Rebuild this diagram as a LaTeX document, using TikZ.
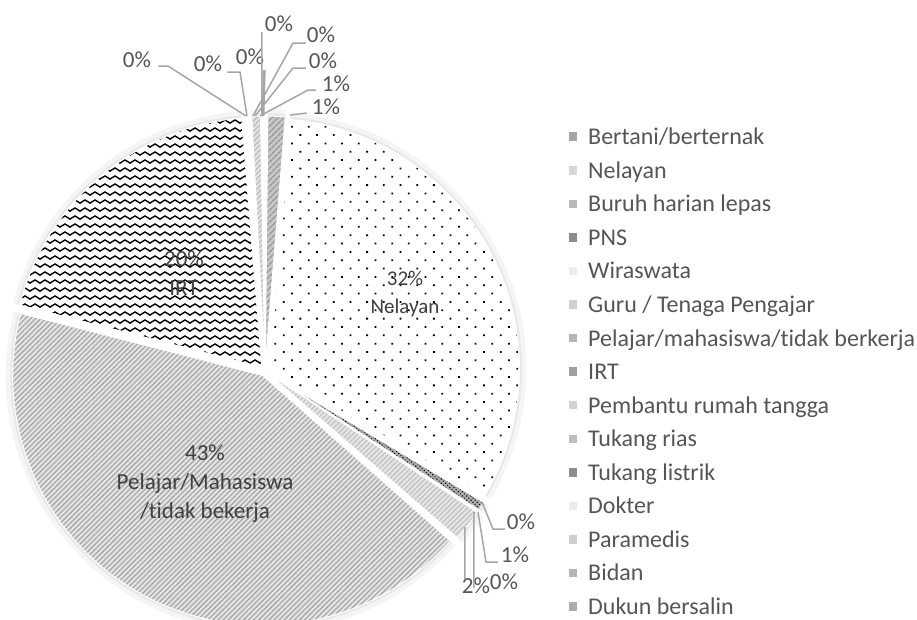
\documentclass[tikz,border=0pt]{standalone}
\usepackage{fontspec}
\setmainfont{Carlito}[Ligatures={NoCommon}]
\usetikzlibrary{patterns,patterns.meta,calc}
\definecolor{txt}{HTML}{555555}
\definecolor{lbl}{HTML}{404040}
\definecolor{leadc}{HTML}{A6A6A6}

\tikzdeclarepattern{
  name=zigzagP,
  type=uncolored,
  bounding box={(-1.5pt,-1.5pt) and (11.5pt,5pt)},
  tile size={(10pt,8pt)},
  code={\draw[line width=1.4pt] (-0.5pt,-0.3pt) -- (5pt,3pt) -- (10.5pt,-0.3pt);}
}

\newcommand\pieslice[3]{%
  \pgfmathsetmacro\psM{90-(#1+#2)/2}%
  \pgfmathsetmacro\psA{90-#1}%
  \pgfmathsetmacro\psB{90-#2}%
  \path[#3] ($(C)+(\psM:5)$) -- ++(\psA:250) arc[start angle=\psA, end angle=\psB, radius=250] -- cycle;
}
\newcommand\pieshadow[2]{%
  \pgfmathsetmacro\psM{90-(#1+#2)/2}%
  \pgfmathsetmacro\psA{90-#1}%
  \pgfmathsetmacro\psB{90-#2}%
  \draw[gray!8, line width=8] ($(C)+(\psM:5)+(\psA:253)$) arc[start angle=\psA, end angle=\psB, radius=253];
  \draw[gray!18, line width=3] ($(C)+(\psM:5)+(\psA:251)$) arc[start angle=\psA, end angle=\psB, radius=251];
}
\newcommand\legitem[3]{%
  \pgfmathsetmacro\legy{-(136.7+33.56*#1)}%
  \node[sw, fill=#2] (sw#1) at (573,\legy) {};
  \node[leg, anchor=base west] (lg#1) at (588,\legy-8) {#3};
}

\begin{document}
\begin{tikzpicture}[x=1pt,y=1pt,
  slicebase/.style={draw=white, line width=1pt},
  bertani/.style={slicebase, preaction={fill=gray!45}, pattern={Lines[angle=45,distance=4pt,line width=1.3pt]}, pattern color=gray!85},
  nelayan/.style={slicebase, preaction={fill=white}, pattern={Dots[angle=45,distance=11.8pt,radius=1.25pt]}, pattern color=black},
  pns/.style={slicebase, preaction={fill=gray!65}, pattern={Dots[angle=45,distance=3pt,radius=0.8pt]}, pattern color=black},
  guru/.style={slicebase, preaction={fill=gray!20}, pattern={Lines[angle=45,distance=3.6pt,line width=1.1pt]}, pattern color=gray!50},
  pelajar/.style={slicebase, preaction={fill=gray!20}, pattern={Lines[angle=45,distance=3.6pt,line width=1.3pt]}, pattern color=gray!68},
  irt/.style={slicebase, preaction={fill=white}, pattern=zigzagP, pattern color=black},
  paramedis/.style={slicebase, preaction={fill=gray!22}, pattern={Lines[angle=45,distance=3.6pt,line width=1.1pt]}, pattern color=gray!55},
  lab/.style={font=\fontsize{23}{28}\selectfont, text=txt, inner sep=0pt},
  inlab/.style={font=\fontsize{23}{29}\selectfont, text=lbl, inner sep=0pt, align=center},
  leader/.style={draw=leadc, line width=1.5pt},
  sw/.style={minimum size=8.5pt, inner sep=0pt, draw=none},
  leg/.style={font=\fontsize{24}{28}\selectfont, text=txt, inner sep=0pt},
]
\useasboundingbox (0,0) rectangle (917,-619);
\coordinate (C) at (265,-371);

% shadows
\pieshadow{0.6}{4.6}
\pieshadow{5.0}{120.4}
\pieshadow{121.0}{123.0}
\pieshadow{123.6}{131.0}
\pieshadow{131.4}{284.4}
\pieshadow{284.4}{355.4}
\pieshadow{357.0}{359.0}

% slices
\pieslice{0.6}{4.6}{bertani}
\pieslice{5.0}{120.4}{nelayan}
\pieslice{121.0}{123.0}{pns}
\pieslice{123.6}{131.0}{guru}
\pieslice{131.4}{284.4}{pelajar}
\pieslice{284.4}{355.4}{irt}
\pieslice{357.0}{359.0}{paramedis}

% in-slice labels
\node[inlab, font=\fontsize{21}{28}\selectfont] (lnel) at (405,-294) {32\%\\Nelayan};
\node[inlab] (lpel) at (205,-484) {43\%\\Pelajar/Mahasiswa\\/t\kern0pt idak bekerja};
\node[inlab] (lirt) at (184,-273) {20\%\\IRT};

% top outside labels
\node[lab] (t1) at (137,-60) {0\%};
\node[lab] (t2) at (208,-64) {0\%};
\node[lab] (t3) at (250,-57) {0\%};
\node[lab] (t4) at (279,-24) {0\%};
\node[lab] (t5) at (321,-35) {0\%};
\node[lab] (t6) at (323,-61) {0\%};
\node[lab] (t7) at (336,-84) {1\%};
\node[lab] (t8) at (326,-107) {1\%};

\coordinate (t1e) at (168,-66);  \coordinate (t1p) at (246,-116);
\coordinate (t2e) at (240,-72);  \coordinate (t2p) at (247,-116);
\coordinate (t3p) at (263,-116);
\coordinate (t4p) at (262,-116);
\coordinate (t5e) at (293,-43);  \coordinate (t5p) at (253,-116);
\coordinate (t6e) at (293,-68);  \coordinate (t6p) at (255,-116);
\coordinate (t7e) at (308,-90);  \coordinate (t7p) at (260,-116);
\coordinate (t8p) at (290,-115);

\draw[leader] (t1.east) ++(7,-6) -- (t1e) -- (t1p);
\draw[leader] (t2.east) ++(5,-8) -- (t2e) -- (t2p);
\draw[leader, line width=2.8pt] (t3.south east) ++(0,-5) -- (t3p);
\draw[leader] (t4.west) ++(-3,-8) -- (t4p);
\draw[leader] (t5.west) ++(-1,-8) -- (t5e) -- (t5p);
\draw[leader] (t6.west) ++(-3,-7) -- (t6e) -- (t6p);
\draw[leader] (t7.west) ++(-6,-6) -- (t7e) -- (t7p);
\draw[leader] (t8.west) ++(-5,-6) -- (t8p);

% bottom outside labels
\node[lab] (b1) at (521,-522) {0\%};
\node[lab] (b2) at (515,-555) {1\%};
\node[lab] (b3) at (476,-586) {2\%};
\node[lab] (b4) at (504,-582) {0\%};

\coordinate (b1e) at (493,-529); \coordinate (b1p) at (482,-502);
\coordinate (b2e) at (486,-562); \coordinate (b2p) at (478,-512);
\coordinate (b3p) at (465,-527);
\coordinate (b4p) at (474,-512);

\draw[leader] (b1.west) ++(-2,-7) -- (b1e) -- (b1p);
\draw[leader] (b2.west) ++(-3,-7) -- (b2e) -- (b2p);
\draw[leader] (b3.north west) ++(3,-1) -- (b3p);
\draw[leader] (b4.west) ++(-16,-6) -- (b4p);

% legend
\legitem{0}{gray!70}{Bertani/berternak}
\legitem{1}{gray!32}{Nelayan}
\legitem{2}{gray!55}{Buruh harian lepas}
\legitem{3}{gray!90}{PNS}
\legitem{4}{gray!15}{Wiraswata}
\legitem{5}{gray!38}{Guru / Tenaga Pengajar}
\legitem{6}{gray!58}{Pelajar/mahasiswa/t\kern0pt idak berkerja}
\legitem{7}{gray!75}{IRT}
\legitem{8}{gray!35}{Pembantu rumah tangga}
\legitem{9}{gray!50}{Tukang rias}
\legitem{10}{gray!90}{Tukang listrik}
\legitem{11}{gray!15}{Dokter}
\legitem{12}{gray!38}{Paramedis}
\legitem{13}{gray!58}{Bidan}
\legitem{14}{gray!65}{Dukun bersalin}
\end{tikzpicture}
\end{document}
